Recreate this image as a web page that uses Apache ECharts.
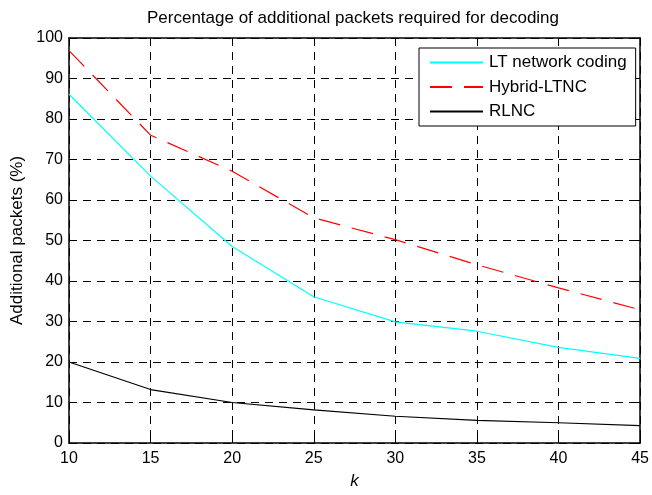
<!DOCTYPE html>
<html>
<head>
<meta charset="utf-8">
<script src="https://cdn.jsdelivr.net/npm/echarts@6/dist/echarts.min.js"></script>
<style>
  html, body { margin: 0; padding: 0; background: #fff; }
  #chart { width: 652px; height: 495px; }
</style>
</head>
<body>
<div id="chart"></div>
<script>
// Number of source packets k
const kValues = [10, 15, 20, 25, 30, 35, 40, 45];
// Additional packets needed for decoding (%)
const ltNetworkCoding = [86.1, 65.9, 48.5, 36.1, 29.9, 27.6, 23.6, 20.9];
const hybridLtnc      = [96.9, 76.0, 67.1, 55.6, 50.2, 44.0, 38.3, 32.9];
const rlnc            = [20.0, 13.2, 10.0, 8.2, 6.6, 5.6, 5.0, 4.3];
const xTicks = [10, 15, 20, 25, 30, 35, 40, 45];
const yTicks = [0, 10, 20, 30, 40, 50, 60, 70, 80, 90, 100];

const FONT = 'Arial, "Liberation Sans", Helvetica, sans-serif';
const pairs = ys => kValues.map((k, i) => [k, ys[i]]);

const gridDash = { color: '#000', width: 1, type: [8, 6] };

const chart = echarts.init(document.getElementById('chart'), null, { renderer: 'canvas' });

chart.setOption({
  animation: false,
  backgroundColor: '#fff',
  textStyle: { fontFamily: FONT },
  graphic: [{
    type: 'text',
    x: 353,
    y: 10,
    style: {
      text: 'Percentage of additional packets required for decoding',
      fill: '#000',
      font: '17px ' + FONT,
      align: 'center',
      verticalAlign: 'top'
    }
  }],
  grid: { left: 69, right: 10, top: 38, bottom: 43, containLabel: false },
  legend: {
    left: 419,
    top: 48,
    orient: 'vertical',
    backgroundColor: '#fff',
    borderColor: '#000',
    borderWidth: 1,
    borderRadius: 0,
    padding: [6, 9, 6, 10],
    itemWidth: 53,
    itemHeight: 17,
    itemGap: 7.5,
    itemStyle: { opacity: 0 },
    textStyle: { fontFamily: FONT, fontSize: 17, color: '#000', lineHeight: 17, padding: [0, 0, 0, 1] },
    data: ['LT network coding', 'Hybrid-LTNC', 'RLNC']
  },
  xAxis: [{
    type: 'value',
    min: xTicks[0],
    max: xTicks[xTicks.length - 1],
    interval: xTicks[1] - xTicks[0],
    name: 'k',
    nameLocation: 'middle',
    nameGap: 30,
    nameTextStyle: { fontFamily: FONT, fontSize: 17, fontStyle: 'italic', color: '#000' },
    axisLine: { show: true, onZero: false, lineStyle: { color: '#000', width: 1.5 } },
    axisTick: { show: true, inside: true, length: 5, lineStyle: { color: '#000' } },
    axisLabel: { fontFamily: FONT, fontSize: 16, color: '#000', margin: 8 },
    splitLine: { show: true, lineStyle: gridDash }
  }, {
    type: 'value',
    position: 'top',
    min: xTicks[0],
    max: xTicks[xTicks.length - 1],
    interval: xTicks[1] - xTicks[0],
    axisLine: { show: true, onZero: false, lineStyle: { color: '#000', width: 1.5 } },
    axisTick: { show: true, inside: true, length: 5, lineStyle: { color: '#000' } },
    axisLabel: { show: false },
    splitLine: { show: false }
  }],
  yAxis: [{
    type: 'value',
    min: yTicks[0],
    max: yTicks[yTicks.length - 1],
    interval: yTicks[1] - yTicks[0],
    name: 'Additional packets (%)',
    nameLocation: 'middle',
    nameGap: 34,
    nameTextStyle: { fontFamily: FONT, fontSize: 17, color: '#000' },
    axisLine: { show: true, onZero: false, lineStyle: { color: '#000', width: 1.5 } },
    axisTick: { show: true, inside: true, length: 5, lineStyle: { color: '#000' } },
    axisLabel: { fontFamily: FONT, fontSize: 16, color: '#000', margin: 6 },
    splitLine: { show: true, lineStyle: gridDash }
  }, {
    type: 'value',
    position: 'right',
    min: yTicks[0],
    max: yTicks[yTicks.length - 1],
    interval: yTicks[1] - yTicks[0],
    axisLine: { show: true, onZero: false, lineStyle: { color: '#000', width: 1.5 } },
    axisTick: { show: true, inside: true, length: 5, lineStyle: { color: '#000' } },
    axisLabel: { show: false },
    splitLine: { show: false }
  }],
  series: [{
    name: 'LT network coding',
    type: 'line',
    symbol: 'none',
    data: pairs(ltNetworkCoding),
    lineStyle: { color: '#00ffff', width: 1.2 },
    itemStyle: { color: '#00ffff' },
    z: 3
  }, {
    name: 'Hybrid-LTNC',
    type: 'line',
    symbol: 'none',
    data: pairs(hybridLtnc),
    lineStyle: { color: '#ff0000', width: 1.2, type: [22, 12] },
    itemStyle: { color: '#ff0000' },
    z: 3
  }, {
    name: 'RLNC',
    type: 'line',
    symbol: 'none',
    data: pairs(rlnc),
    lineStyle: { color: '#000000', width: 1.2 },
    itemStyle: { color: '#000000' },
    z: 3
  }]
});
</script>
</body>
</html>
